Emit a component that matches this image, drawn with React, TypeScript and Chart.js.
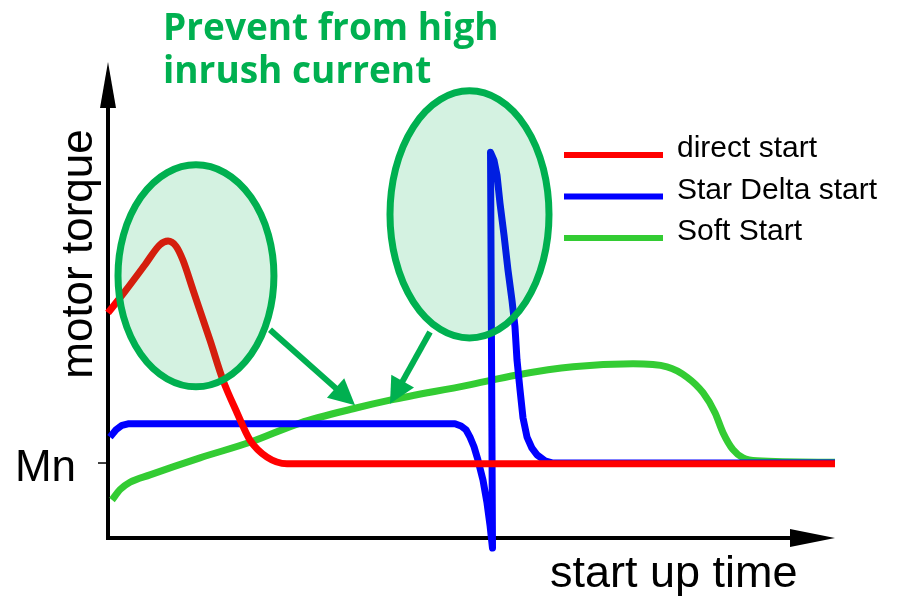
import React, { useEffect, useRef } from "react";
import { Chart, registerables } from "chart.js";

Chart.register(...registerables);

// ---- data (time units 0..100, torque units with Mn = 1) ----
const seriesLabels = ["direct start", "Star Delta start", "Soft Start"];
const seriesColors = ["#ff0000", "#0000ff", "#33cc33"];

const directX = [0, 2.33, 5.07, 7.12, 8.22, 9.32, 10.27, 11.64, 13.97, 15.75, 17.67, 19.45, 21.78, 24.52, 99.59];
const directY = [3.03, 3.32, 3.68, 3.95, 4.0, 3.93, 3.74, 3.34, 2.66, 2.12, 1.68, 1.31, 1.08, 0.99, 0.99];

const starDeltaX = [0.27, 1.1, 1.92, 2.74, 47.53, 48.36, 49.04, 49.59, 50.14, 50.68, 51.37, 51.92, 52.33, 52.67, 52.4, 52.88, 53.29, 53.7, 54.25, 54.79, 55.34, 55.75, 56.03, 56.44, 56.85, 57.4, 58.08, 58.77, 59.86, 60.96, 99.59];
const starDeltaY = [1.35, 1.45, 1.51, 1.53, 1.53, 1.5, 1.45, 1.35, 1.22, 1.04, 0.77, 0.46, 0.16, -0.15, 5.2, 5.09, 4.89, 4.51, 4.08, 3.61, 3.2, 2.84, 2.39, 1.99, 1.61, 1.35, 1.2, 1.11, 1.03, 1.0, 1.0];

const softX = [0.55, 1.64, 3.01, 5.75, 12.6, 19.45, 26.3, 33.84, 38.63, 49.18, 56.03, 63.7, 71.92, 76.58, 79.32, 81.51, 83.15, 84.25, 85.62, 86.99, 88.9, 99.59];
const softY = [0.5, 0.64, 0.74, 0.84, 1.07, 1.28, 1.54, 1.74, 1.85, 2.05, 2.19, 2.3, 2.34, 2.3, 2.16, 1.95, 1.68, 1.41, 1.18, 1.07, 1.03, 1.01];

const yTickValues = [1];
const yTickLabels = ["Mn"];
const xAxisTitle = "start up time";
const yAxisTitle = "motor torque";
const noteLines = ["Prevent from high", "inrush current"];

// highlight ellipses: centre and radii in data units
const ellipseCenterX = [12.05, 49.52];
const ellipseCenterY = [3.53, 4.36];
const ellipseRadiusX = [10.68, 10.89];
const ellipseRadiusY = [1.5, 1.67];
// arrows from ellipses to soft start curve
const arrowFromX = [22.19, 44.11];
const arrowFromY = [2.8, 2.77];
const arrowToX = [33.84, 38.63];
const arrowToY = [1.78, 1.8];

const toPoints = (xs: number[], ys: number[]) => xs.map((x, i) => ({ x, y: ys[i] }));

const ACCENT = "#00b050";
const SANS = "'Liberation Sans', Arial, sans-serif";

const decorPlugin = {
  id: "decor",
  beforeDatasetsDraw(chart: any) {
    const { ctx, chartArea, scales } = chart;
    const { left, top, bottom, right } = chartArea;
    ctx.save();
    ctx.fillStyle = "#000";
    ctx.strokeStyle = "#000";
    // y axis
    ctx.lineWidth = 4;
    ctx.beginPath();
    ctx.moveTo(left, bottom + 3);
    ctx.lineTo(left, top + 40);
    ctx.stroke();
    ctx.beginPath();
    ctx.moveTo(left, top);
    ctx.lineTo(left - 8, top + 46);
    ctx.lineTo(left + 8, top + 46);
    ctx.closePath();
    ctx.fill();
    // x axis
    const ay = bottom + 1;
    ctx.beginPath();
    ctx.moveTo(left - 2, ay);
    ctx.lineTo(right - 40, ay);
    ctx.stroke();
    ctx.beginPath();
    ctx.moveTo(right - 3, ay);
    ctx.lineTo(right - 48, ay - 9);
    ctx.lineTo(right - 48, ay + 9);
    ctx.closePath();
    ctx.fill();
    // ticks
    ctx.lineWidth = 1.5;
    ctx.font = `44px ${SANS}`;
    ctx.textAlign = "right";
    ctx.textBaseline = "alphabetic";
    yTickValues.forEach((v, i) => {
      const py = scales.y.getPixelForValue(v);
      ctx.beginPath();
      ctx.moveTo(left - 10, py);
      ctx.lineTo(left, py);
      ctx.stroke();
      ctx.fillText(yTickLabels[i], left - 32, py + 18);
    });
    // axis titles
    ctx.textAlign = "left";
    ctx.font = `45px ${SANS}`;
    ctx.fillText(xAxisTitle, 550, 587);
    ctx.font = `44px ${SANS}`;
    ctx.save();
    ctx.translate(92, 254);
    ctx.rotate(-Math.PI / 2);
    ctx.textAlign = "center";
    ctx.fillText(yAxisTitle, 0, 0);
    ctx.restore();
    ctx.restore();
  },
  afterDatasetsDraw(chart: any) {
    const { ctx, scales } = chart;
    const sx = scales.x;
    const sy = scales.y;
    ctx.save();
    // ellipses
    ellipseCenterX.forEach((cxv, i) => {
      const cx = sx.getPixelForValue(cxv);
      const cy = sy.getPixelForValue(ellipseCenterY[i]);
      const rx = Math.abs(sx.getPixelForValue(cxv + ellipseRadiusX[i]) - cx);
      const ry = Math.abs(sy.getPixelForValue(ellipseCenterY[i] + ellipseRadiusY[i]) - cy);
      ctx.beginPath();
      ctx.ellipse(cx, cy, rx, ry, 0, 0, Math.PI * 2);
      ctx.fillStyle = "rgba(0,176,80,0.17)";
      ctx.fill();
      ctx.lineWidth = 7;
      ctx.strokeStyle = ACCENT;
      ctx.stroke();
    });
    // arrows
    arrowFromX.forEach((fx, i) => {
      const x1 = sx.getPixelForValue(fx);
      const y1 = sy.getPixelForValue(arrowFromY[i]);
      const x2 = sx.getPixelForValue(arrowToX[i]);
      const y2 = sy.getPixelForValue(arrowToY[i]);
      const ang = Math.atan2(y2 - y1, x2 - x1);
      const headLen = 26;
      const headW = 13;
      const bx = x2 - Math.cos(ang) * headLen;
      const by = y2 - Math.sin(ang) * headLen;
      ctx.strokeStyle = ACCENT;
      ctx.fillStyle = ACCENT;
      ctx.lineWidth = 6;
      ctx.beginPath();
      ctx.moveTo(x1, y1);
      ctx.lineTo(bx + Math.cos(ang) * 2, by + Math.sin(ang) * 2);
      ctx.stroke();
      ctx.beginPath();
      ctx.moveTo(x2, y2);
      ctx.lineTo(bx + Math.sin(ang) * headW, by - Math.cos(ang) * headW);
      ctx.lineTo(bx - Math.sin(ang) * headW, by + Math.cos(ang) * headW);
      ctx.closePath();
      ctx.fill();
    });
    // note text
    ctx.fillStyle = ACCENT;
    ctx.font = "bold 37px 'Open Sans', sans-serif";
    ctx.textAlign = "left";
    ctx.textBaseline = "alphabetic";
    noteLines.forEach((t, i) => ctx.fillText(t, 163, 40 + i * 43));
    // legend
    ctx.font = `30px ${SANS}`;
    chart.data.datasets.forEach((ds: any, i: number) => {
      const ly = 155 + i * 41.5;
      ctx.strokeStyle = ds.borderColor;
      ctx.lineWidth = 6;
      ctx.lineCap = "butt";
      ctx.beginPath();
      ctx.moveTo(564, ly);
      ctx.lineTo(663, ly);
      ctx.stroke();
      ctx.fillStyle = "#000";
      ctx.fillText(ds.label, 677, ly + 2);
    });
    ctx.restore();
  },
};

export default function App() {
  const canvasRef = useRef<HTMLCanvasElement | null>(null);
  useEffect(() => {
    if (!canvasRef.current) return;
    const chart = new Chart(canvasRef.current, {
      type: "line",
      data: {
        datasets: [
          {
            label: seriesLabels[0],
            data: toPoints(directX, directY),
            borderColor: seriesColors[0],
            borderWidth: 7,
            pointRadius: 0,
            cubicInterpolationMode: "monotone",
            clip: false,
          },
          {
            label: seriesLabels[1],
            data: toPoints(starDeltaX, starDeltaY),
            borderColor: seriesColors[1],
            borderWidth: 7,
            pointRadius: 0,
            tension: 0,
            borderJoinStyle: "round",
            clip: false,
          },
          {
            label: seriesLabels[2],
            data: toPoints(softX, softY),
            borderColor: seriesColors[2],
            borderWidth: 7,
            pointRadius: 0,
            cubicInterpolationMode: "monotone",
            clip: false,
          },
        ],
      } as any,
      options: {
        responsive: false,
        animation: false,
        events: [],
        layout: { padding: { left: 108, right: 63, top: 62, bottom: 60 } },
        scales: {
          x: { type: "linear", min: 0, max: 100, display: false },
          y: { type: "linear", min: 0, max: 6.42, display: false },
        },
        plugins: { legend: { display: false }, tooltip: { enabled: false } },
      } as any,
      plugins: [decorPlugin],
    });
    return () => chart.destroy();
  }, []);
  return (
    <div style={{ position: "fixed", left: 0, top: 0, width: 901, height: 597, background: "#fff" }}>
      <canvas ref={canvasRef} width={901} height={597} style={{ display: "block" }} />
    </div>
  );
}
